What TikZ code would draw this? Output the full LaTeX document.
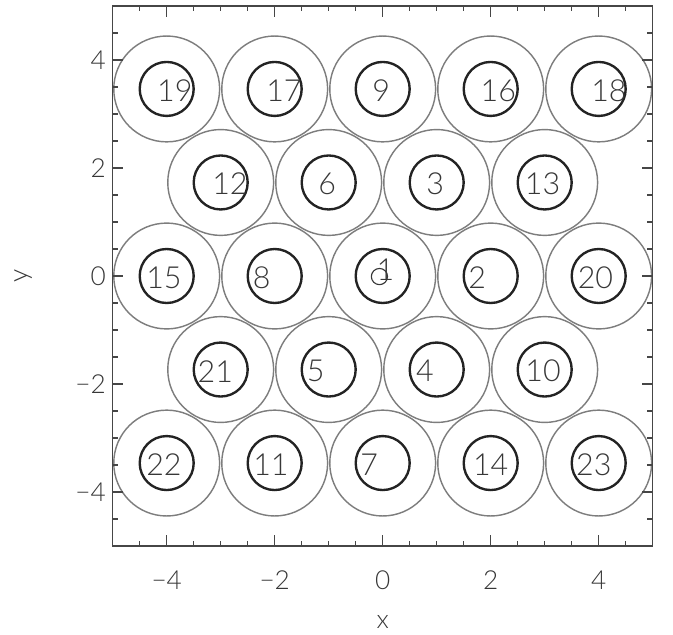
\documentclass[tikz,border=0pt]{standalone}
\usepackage{fontspec}
\setmainfont{Lato}[UprightFont=* Light]
\definecolor{ringgray}{RGB}{125,125,125}
\definecolor{coregray}{RGB}{35,35,35}
\definecolor{framegray}{RGB}{70,70,70}
\definecolor{textgray}{RGB}{55,55,55}

\tikzset{
  ring/.style={draw=ringgray, line width=0.75pt},
  core/.style={draw=coregray, line width=1.25pt},
  fiblabel/.style={text=textgray, inner sep=0pt, font=\fontsize{16}{18}\selectfont},
  ticklabel/.style={text=textgray, inner sep=0pt, font=\fontsize{13.8}{16}\selectfont},
  frame/.style={draw=framegray, line width=0.8pt}
}

\begin{document}
\begin{tikzpicture}

\useasboundingbox (-7.087,-6.648) rectangle (5.376,5.111);

%---------------------------------------
% Lattice rows
%---------------------------------------
\def\yA{3.464}
\def\yB{1.732}
\def\Rring{0.98}
\def\Rcore{0.5}

%====================================================
% Fibres: outer ring and inner core
%====================================================
\foreach \n/\cx/\cy in {
    19/-4/\yA, 17/-2/\yA, 9/0/\yA, 16/2/\yA, 18/4/\yA,
    12/-3/\yB, 6/-1/\yB, 3/1/\yB, 13/3/\yB,
    15/-4/0, 8/-2/0, 1/0/0, 2/2/0, 20/4/0,
    21/-3/-\yB, 5/-1/-\yB, 4/1/-\yB, 10/3/-\yB,
    22/-4/-\yA, 11/-2/-\yA, 7/0/-\yA, 14/2/-\yA, 23/4/-\yA}{
  \draw[ring] (\cx,\cy) circle (\Rring);
  \draw[core] (\cx,\cy) circle (\Rcore);
}

% ---- Fibre numbers (slightly off centre, as printed) ----
\foreach \n/\cx/\cy/\dx in {
    19/-4/\yA/0.15, 17/-2/\yA/0.17, 9/0/\yA/-0.03, 16/2/\yA/0.14, 18/4/\yA/0.19,
    12/-3/\yB/0.17, 6/-1/\yB/-0.03, 3/1/\yB/-0.03, 13/3/\yB/-0.04,
    15/-4/0/-0.05, 8/-2/0/-0.24, 2/2/0/-0.25, 20/4/0/-0.06,
    21/-3/-\yB/-0.1, 5/-1/-\yB/-0.24, 4/1/-\yB/-0.22, 10/3/-\yB/-0.03,
    22/-4/-\yA/-0.05, 11/-2/-\yA/-0.07, 7/0/-\yA/-0.25, 14/2/-\yA/0, 23/4/-\yA/-0.09}{
  \node[fiblabel] (lab\n) at ({\cx+\dx},{\cy-0.03}) {\n};
}

% centre fibre: number and small marker
\node[fiblabel] (lab1) at (0.05,0.12) {1};
\draw[draw=textgray, line width=0.6pt] (-0.06,-0.01) circle (0.15);

%====================================================
% Frame and ticks
%====================================================
\draw[frame] (-5,-5) rectangle (5,5);

\foreach \t in {-4.5,-4,...,4.5}{
  \draw[frame] (\t,-5) -- ++(0,0.1);
  \draw[frame] (\t,5) -- ++(0,-0.1);
  \draw[frame] (-5,\t) -- ++(0.1,0);
  \draw[frame] (5,\t) -- ++(-0.1,0);
}
\foreach \t in {-4,-2,...,4}{
  \draw[frame] (\t,-5) -- ++(0,0.2);
  \draw[frame] (\t,5) -- ++(0,-0.2);
  \draw[frame] (-5,\t) -- ++(0.2,0);
  \draw[frame] (5,\t) -- ++(-0.2,0);
}

% ---- Tick labels ----
\foreach \t/\s [count=\i] in {-4/−4,-2/−2,0/0,2/2,4/4}{
  \node[ticklabel] (xt\i) at (\t,-5.64) {\s};
  \node[ticklabel, anchor=east] (yt\i) at (-5.12,\t) {\s};
}

% Axis titles
\node[ticklabel] (xtitle) at (0,-6.4) {x};
\node[ticklabel, rotate=90] (ytitle) at (-6.66,0) {y};

\end{tikzpicture}
\end{document}
